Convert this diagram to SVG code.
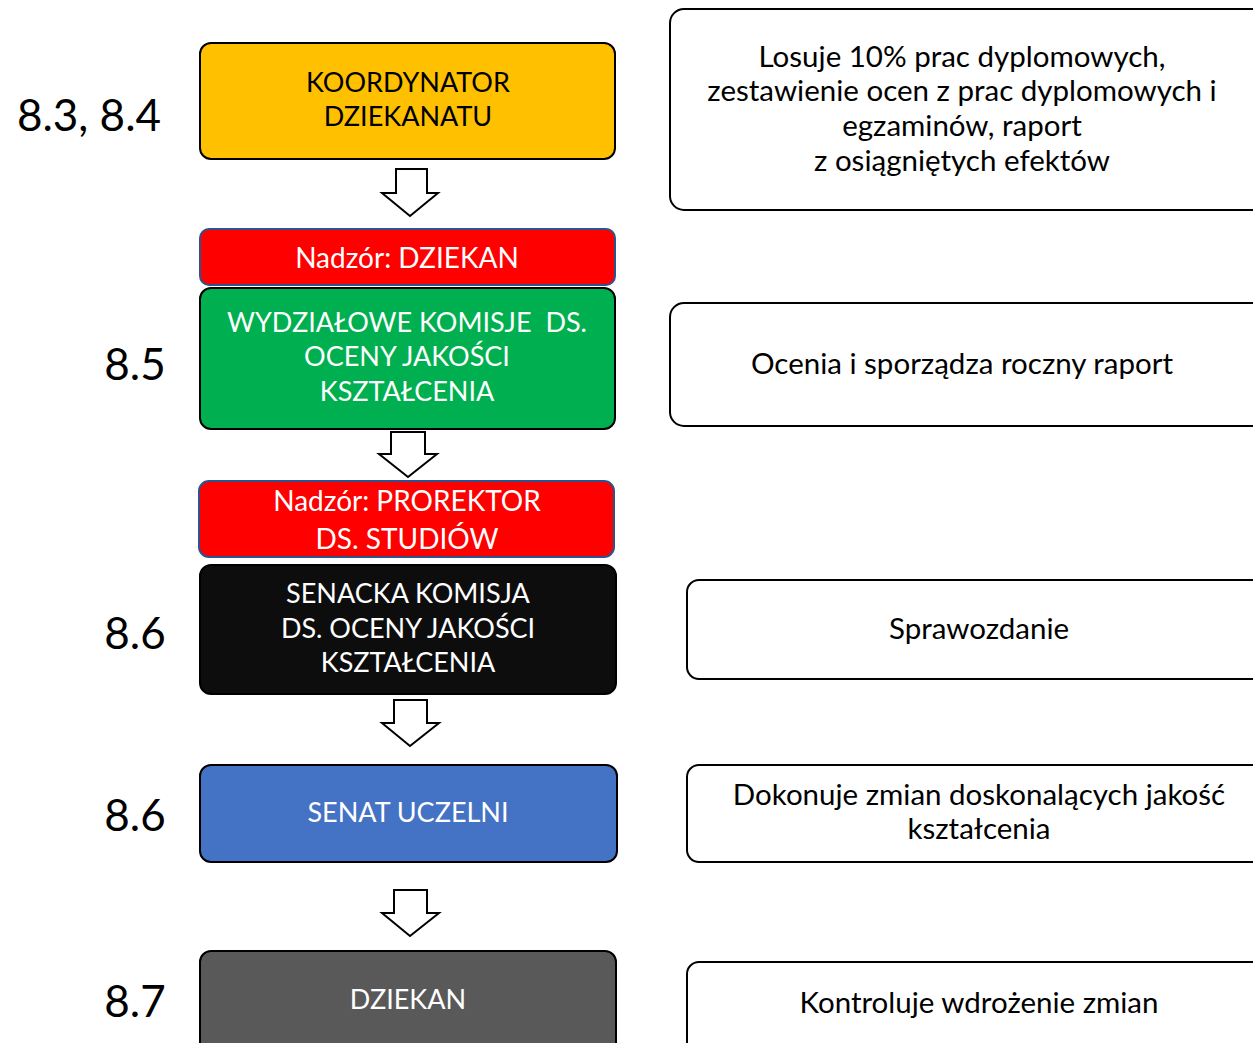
<svg xmlns="http://www.w3.org/2000/svg" width="1253" height="1043" viewBox="0 0 1253 1043">
<defs>
<style>
text{font-family:Lato,"Open Sans","Liberation Sans",sans-serif;text-anchor:middle}
.box{stroke:#000;stroke-width:2}
.sup{stroke:#2F528F;stroke-width:2;fill:#FF0000}
.side{fill:#fff;stroke:#000;stroke-width:2}
.arrow{fill:#fff;stroke:#000;stroke-width:2;stroke-linejoin:miter}
.t{font-size:27px}
.tw{font-size:27px;fill:#fff}
.ts{font-size:28px;fill:#fff}
.num{font-size:44px;fill:#000}
.rt{font-size:29.5px;fill:#000}
</style>
</defs>
<rect width="1253" height="1043" fill="#fff"/>
<g id="labels">
<text class="num" x="89" y="131">8.3, 8.4</text>
<text class="num" x="135" y="380">8.5</text>
<text class="num" x="135" y="649">8.6</text>
<text class="num" x="135" y="831">8.6</text>
<text class="num" x="135" y="1017">8.7</text>
</g>
<g id="koordynator">
<rect class="box" x="200" y="43" width="415" height="116" rx="11" fill="#FFC000"/>
<text class="t" x="408" y="92">KOORDYNATOR</text>
<text class="t" x="408" y="126">DZIEKANATU</text>
</g>
<g id="nadzor-dziekan">
<rect class="sup" x="200" y="229" width="415" height="56" rx="9"/>
<text class="ts" x="407" y="268">Nadzór: DZIEKAN</text>
</g>
<g id="wydzialowe">
<rect class="box" x="200" y="288" width="415" height="141" rx="11" fill="#00B050"/>
<text class="tw" x="407" y="332" xml:space="preserve">WYDZIAŁOWE KOMISJE  DS.</text>
<text class="tw" x="407" y="366">OCENY JAKOŚCI</text>
<text class="tw" x="407" y="401">KSZTAŁCENIA</text>
</g>
<g id="nadzor-prorektor">
<rect class="sup" x="199" y="481" width="415" height="76" rx="10"/>
<text class="ts" x="407" y="511">Nadzór: PROREKTOR</text>
<text class="ts" x="407" y="549">DS. STUDIÓW</text>
</g>
<g id="senacka">
<rect class="box" x="200" y="565" width="416" height="129" rx="11" fill="#0D0D0D"/>
<text class="tw" x="408" y="603">SENACKA KOMISJA</text>
<text class="tw" x="408" y="638">DS. OCENY JAKOŚCI</text>
<text class="tw" x="408" y="672">KSZTAŁCENIA</text>
</g>
<g id="senat">
<rect class="box" x="200" y="765" width="417" height="97" rx="11" fill="#4472C4"/>
<text class="tw" x="408" y="822">SENAT UCZELNI</text>
</g>
<g id="dziekan">
<rect class="box" x="200" y="951" width="416" height="110" rx="11" fill="#595959"/>
<text class="tw" x="408" y="1009">DZIEKAN</text>
</g>
<g id="side1">
<rect class="side" x="670" y="9" width="600" height="201" rx="14"/>
<text class="rt" x="962" y="67">Losuje 10% prac dyplomowych,</text>
<text class="rt" x="962" y="101">zestawienie ocen z prac dyplomowych i</text>
<text class="rt" x="962" y="136">egzaminów, raport</text>
<text class="rt" x="962" y="171">z osiągniętych efektów</text>
</g>
<g id="side2">
<rect class="side" x="670" y="303" width="600" height="123" rx="14"/>
<text class="rt" x="962" y="374">Ocenia i sporządza roczny raport</text>
</g>
<g id="side3">
<rect class="side" x="687" y="580" width="600" height="99" rx="12"/>
<text class="rt" x="979" y="639">Sprawozdanie</text>
</g>
<g id="side4">
<rect class="side" x="687" y="765" width="600" height="97" rx="12"/>
<text class="rt" x="979" y="805">Dokonuje zmian doskonalących jakość</text>
<text class="rt" x="979" y="839">kształcenia</text>
</g>
<g id="side5">
<rect class="side" x="687" y="962" width="600" height="110" rx="12"/>
<text class="rt" x="979" y="1013">Kontroluje wdrożenie zmian</text>
</g>
<g id="connectors">
<path class="arrow" d="M396 169 H427 V193 H438 L410 216 L382 193 H396 Z"/>
<path class="arrow" d="M391 432 H425 V454 H437 L408 477 L379 454 H391 Z"/>
<path class="arrow" d="M394 700 H427 V723 H439 L410 746 L382 723 H394 Z"/>
<path class="arrow" d="M394 890 H427 V913 H439 L410 936 L382 913 H394 Z"/>
</g>
</svg>
